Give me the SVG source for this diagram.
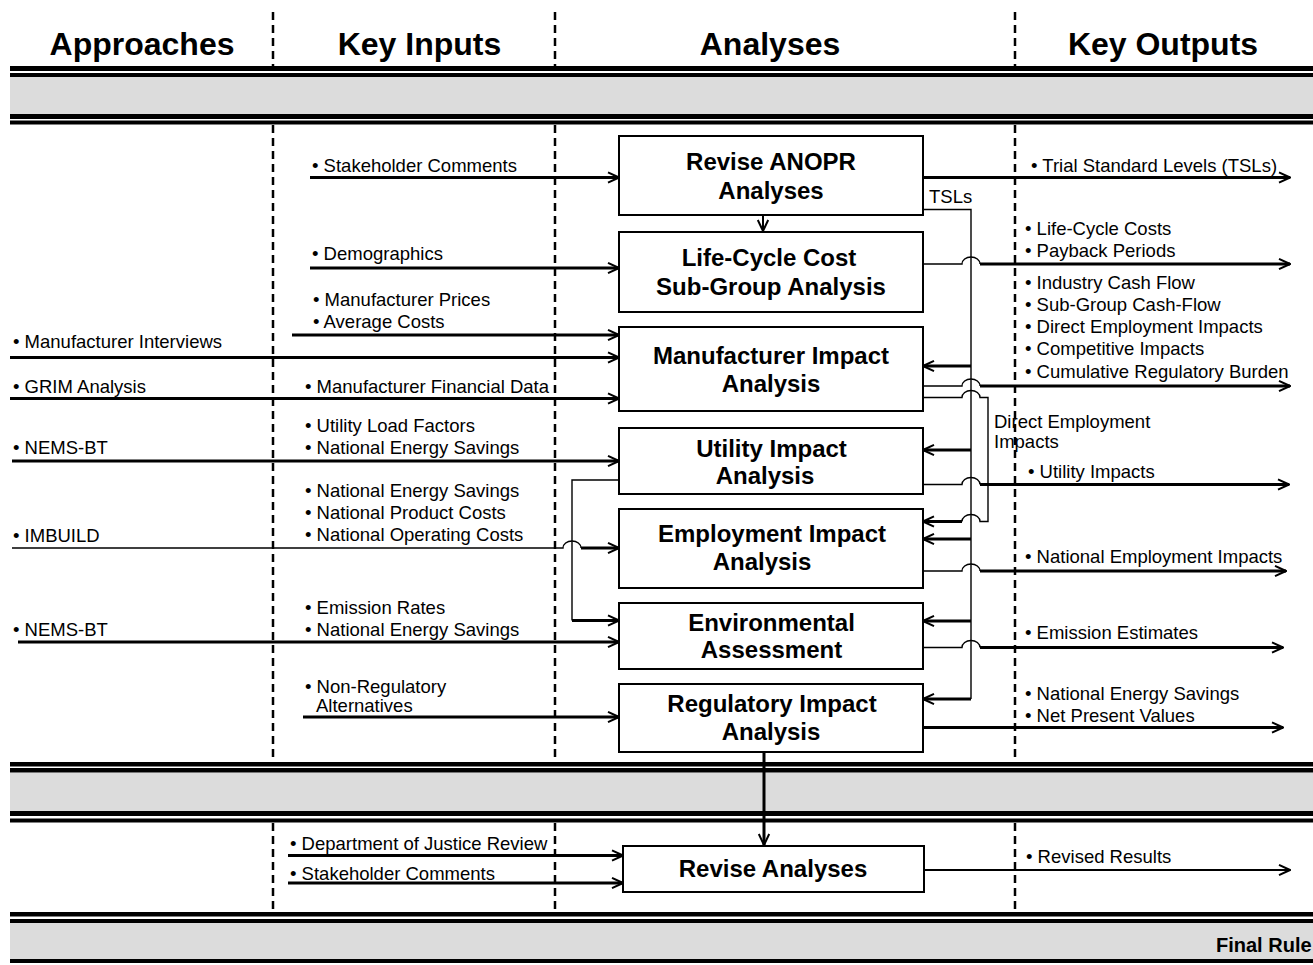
<svg xmlns="http://www.w3.org/2000/svg" width="1313" height="965" viewBox="0 0 1313 965">
<style>
text{font-family:"Liberation Sans",Arial,sans-serif;fill:#000}
.t{font-size:18.5px}
.b{font-size:24px;font-weight:bold;text-anchor:middle}
.h{font-size:32px;font-weight:bold;text-anchor:middle}
.f{font-size:20px;font-weight:bold}
.box{fill:#fff;stroke:#000;stroke-width:2}
.dash{stroke:#000;stroke-width:2.5;stroke-dasharray:8 5;fill:none}
.band{fill:#dcdcdc}
.bl{fill:#000}
.k{stroke:#000;stroke-width:3;fill:none}
.n{stroke:#000;stroke-width:1.4;fill:none}
.m{stroke:#000;stroke-width:2;fill:none}
.a{marker-end:url(#arr)}
</style>
<defs>
<marker id="arr" markerUnits="userSpaceOnUse" markerWidth="14" markerHeight="14" viewBox="0 0 14 14" refX="13" refY="7" orient="auto">
<path d="M2,1.8 L13,7 L2,12.2" fill="none" stroke="#000" stroke-width="2"/>
</marker>
</defs>
<rect width="1313" height="965" fill="#fff"/>

<g id="bands">
<rect class="band" x="10" y="77" width="1303" height="37"/>
<rect class="bl" x="10" y="66" width="1303" height="5"/>
<rect class="bl" x="10" y="73" width="1303" height="4"/>
<rect class="bl" x="10" y="114" width="1303" height="5"/>
<rect class="bl" x="10" y="120.5" width="1303" height="4"/>
<rect class="band" x="10" y="772.5" width="1303" height="38.5"/>
<rect class="bl" x="10" y="762" width="1303" height="4.5"/>
<rect class="bl" x="10" y="768" width="1303" height="4.5"/>
<rect class="bl" x="10" y="811" width="1303" height="5"/>
<rect class="bl" x="10" y="818.5" width="1303" height="4"/>
<rect class="band" x="10" y="923" width="1303" height="36"/>
<rect class="bl" x="10" y="912" width="1303" height="4.5"/>
<rect class="bl" x="10" y="919" width="1303" height="4"/>
<rect class="bl" x="10" y="959" width="1303" height="4"/>
<text class="f" x="1216" y="952">Final Rule</text>
</g>

<g id="dividers">
<path class="dash" d="M273,12V66M273,125V762M273,823V912"/>
<path class="dash" d="M555,12V66M555,125V762M555,823V912"/>
<path class="dash" d="M1015,12V66M1015,125V762M1015,823V912"/>
</g>

<g id="headers">
<text class="h" x="142" y="55">Approaches</text>
<text class="h" x="419.5" y="55">Key Inputs</text>
<text class="h" x="770" y="55">Analyses</text>
<text class="h" x="1163" y="55">Key Outputs</text>
</g>

<g id="connectors">
<path class="k a" d="M310,177.5H619"/>
<path class="k a" d="M310,268H619"/>
<path class="k a" d="M292,335H619"/>
<path class="k a" d="M10,357.5H619"/>
<path class="k a" d="M10,398.5H619"/>
<path class="k a" d="M12,461H619"/>
<path class="n" d="M12,548H563a9,7 0 0 1 18,0"/>
<path class="k a" d="M581,548H619"/>
<path class="n" d="M619,480H572V620.5"/>
<path class="k a" d="M572,620.5H619"/>
<path class="k a" d="M18,642H619"/>
<path class="k a" d="M303,717H619"/>
<path class="k a" d="M288,855.5H623"/>
<path class="k a" d="M288,883H623"/>
<path class="m a" d="M763,215V231"/>
<path class="k a" d="M764,752V845"/>
<path class="k a" d="M923,177.5H1290"/>
<path class="n" d="M923,209.5H971V699"/>
<path class="k a" d="M971,699H923"/>
<path class="k a" d="M971,366H923"/>
<path class="k a" d="M971,450H923"/>
<path class="k a" d="M971,539H923"/>
<path class="k a" d="M971,621H923"/>
<path class="n" d="M923,264H962a9,7 0 0 1 18,0"/>
<path class="k a" d="M980,264H1290"/>
<path class="n" d="M923,386H962a9,7 0 0 1 18,0"/>
<path class="k a" d="M980,386H1290"/>
<path class="n" d="M923,397.5H962a9,7 0 0 1 18,0H988V521.5H980a9,7 0 0 0 -18,0"/>
<path class="k a" d="M962,521.5H923"/>
<path class="n" d="M923,484.5H962a9,7 0 0 1 18,0"/>
<path class="k a" d="M980,484.5H1289"/>
<path class="n" d="M923,571H962a9,7 0 0 1 18,0"/>
<path class="k a" d="M980,571H1286"/>
<path class="n" d="M923,647.5H962a9,7 0 0 1 18,0"/>
<path class="k a" d="M980,647.5H1283"/>
<path class="k a" d="M923,727.5H1283"/>
<path class="m a" d="M924,870H1290"/>
</g>

<g id="labels">
<text class="t" x="13" y="348">• Manufacturer Interviews</text>
<text class="t" x="13" y="393">• GRIM Analysis</text>
<text class="t" x="13" y="454">• NEMS-BT</text>
<text class="t" x="13" y="542">• IMBUILD</text>
<text class="t" x="13" y="636">• NEMS-BT</text>
<text class="t" x="312" y="172">• Stakeholder Comments</text>
<text class="t" x="312" y="260">• Demographics</text>
<text class="t" x="313" y="306">• Manufacturer Prices</text>
<text class="t" x="313" y="328">• Average Costs</text>
<text class="t" x="305" y="393">• Manufacturer Financial Data</text>
<text class="t" x="305" y="432">• Utility Load Factors</text>
<text class="t" x="305" y="454">• National Energy Savings</text>
<text class="t" x="305" y="497">• National Energy Savings</text>
<text class="t" x="305" y="519">• National Product Costs</text>
<text class="t" x="305" y="541">• National Operating Costs</text>
<text class="t" x="305" y="614">• Emission Rates</text>
<text class="t" x="305" y="636">• National Energy Savings</text>
<text class="t" x="305" y="693">• Non-Regulatory</text>
<text class="t" x="316" y="712">Alternatives</text>
<text class="t" x="290" y="850">• Department of Justice Review</text>
<text class="t" x="290" y="880">• Stakeholder Comments</text>
<text class="t" x="1031" y="172">• Trial Standard Levels (TSLs)</text>
<text class="t" x="1025" y="235">• Life-Cycle Costs</text>
<text class="t" x="1025" y="257">• Payback Periods</text>
<text class="t" x="1025" y="289">• Industry Cash Flow</text>
<text class="t" x="1025" y="311">• Sub-Group Cash-Flow</text>
<text class="t" x="1025" y="333">• Direct Employment Impacts</text>
<text class="t" x="1025" y="355">• Competitive Impacts</text>
<text class="t" x="1025" y="378">• Cumulative Regulatory Burden</text>
<text class="t" x="1028" y="478">• Utility Impacts</text>
<text class="t" x="1025" y="563">• National Employment Impacts</text>
<text class="t" x="1025" y="639">• Emission Estimates</text>
<text class="t" x="1025" y="700">• National Energy Savings</text>
<text class="t" x="1025" y="722">• Net Present Values</text>
<text class="t" x="1026" y="863">• Revised Results</text>
<text class="t" x="929" y="203">TSLs</text>
<text class="t" x="994" y="428">Direct Employment</text>
<text class="t" x="994" y="448">Impacts</text>
</g>

<g id="n-anopr">
<rect class="box" x="619" y="136" width="304" height="79"/>
<text class="b" x="771" y="170">Revise ANOPR</text>
<text class="b" x="771" y="199">Analyses</text>
</g>
<g id="n-lcc">
<rect class="box" x="619" y="232" width="304" height="80"/>
<text class="b" x="769" y="266">Life-Cycle Cost</text>
<text class="b" x="771" y="295">Sub-Group Analysis</text>
</g>
<g id="n-mia">
<rect class="box" x="619" y="327" width="304" height="84"/>
<text class="b" x="771" y="364">Manufacturer Impact</text>
<text class="b" x="771" y="392">Analysis</text>
</g>
<g id="n-uia">
<rect class="box" x="619" y="428" width="304" height="66"/>
<text class="b" x="771.5" y="457">Utility Impact</text>
<text class="b" x="765" y="484">Analysis</text>
</g>
<g id="n-eia">
<rect class="box" x="619" y="509" width="304" height="79"/>
<text class="b" x="772" y="542">Employment Impact</text>
<text class="b" x="762" y="570">Analysis</text>
</g>
<g id="n-ea">
<rect class="box" x="619" y="603" width="304" height="66"/>
<text class="b" x="771.5" y="631">Environmental</text>
<text class="b" x="771.5" y="658">Assessment</text>
</g>
<g id="n-ria">
<rect class="box" x="619" y="684" width="304" height="68"/>
<text class="b" x="772" y="712">Regulatory Impact</text>
<text class="b" x="771" y="740">Analysis</text>
</g>
<g id="n-rev">
<rect class="box" x="623" y="846" width="301" height="46"/>
<text class="b" x="773" y="877">Revise Analyses</text>
</g>
</svg>
